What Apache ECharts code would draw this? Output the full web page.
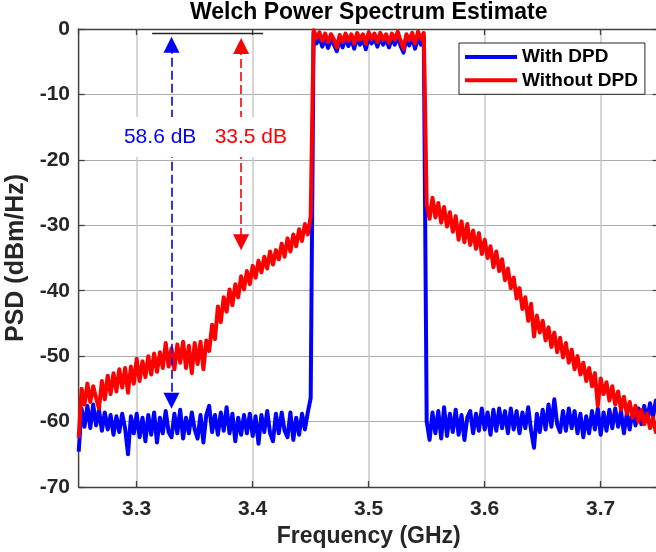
<!DOCTYPE html>
<html><head><meta charset="utf-8">
<script src="https://cdn.jsdelivr.net/npm/echarts@6/dist/echarts.min.js"></script>
<style>html,body{margin:0;padding:0;background:#fff}#c{width:656px;height:552px}</style>
</head><body><div id="c"></div><script>
// Frequency sample grid (GHz)
const fStart = 3.25, fStep = 0.0025;
// PSD (dBm/Hz), one value per frequency sample
const withDPD = [
-64.6,-58.0,-60.8,-57.6,-61.0,-57.4,-60.6,-58.2,-61.4,-58.6,
-61.2,-59.0,-62.0,-59.2,-61.6,-58.8,-61.0,-65.0,-59.2,-61.8,
-58.8,-62.4,-59.4,-63.0,-59.0,-62.0,-58.6,-63.2,-59.4,-61.8,
-58.4,-61.6,-62.4,-58.8,-61.8,-58.2,-62.6,-59.4,-61.8,-58.6,
-61.2,-62.6,-59.0,-63.2,-59.0,-57.6,-61.6,-59.0,-62.0,-58.6,
-61.4,-57.8,-61.8,-58.8,-63.0,-59.4,-62.0,-59.0,-61.8,-58.8,
-62.2,-59.2,-63.4,-59.0,-61.6,-58.4,-61.8,-63.0,-58.8,-61.8,
-58.6,-61.4,-62.4,-58.6,-62.8,-59.4,-62.0,-58.8,-61.2,-58.6,
-56.4,
-0.6,-2.2,-1.2,-2.7,-1.4,-2.9,-1.5,-2.4,-3.4,-1.6,
-2.8,-1.4,-2.6,-1.5,-3.0,-1.3,-2.4,-1.5,-3.1,-1.2,
-2.2,-1.4,-2.7,-1.3,-2.4,-1.5,-2.8,-1.4,-2.4,-1.1,
-2.6,-3.6,-1.5,-2.5,-1.3,-3.0,-1.2,-2.4,-1.3,
-60.0,-62.8,-58.6,-61.8,-58.4,-62.6,-57.8,-62.2,-58.8,-61.6,
-58.2,-62.0,-59.0,-62.8,-59.4,-58.4,-61.8,-58.8,-61.4,-58.0,
-61.2,-58.6,-62.0,-58.2,-61.4,-58.0,-61.0,-58.4,-61.8,-58.0,
-61.2,-58.4,-61.8,-58.6,-61.0,-57.8,-61.4,-64.0,-58.8,-61.6,
-58.2,-61.2,-57.4,-60.8,-56.6,-60.4,-61.6,-58.4,-61.4,-58.0,
-61.0,-58.4,-61.8,-58.8,-62.4,-59.2,-61.8,-58.4,-61.2,-58.0,
-62.0,-58.6,-61.4,-58.2,-61.0,-58.0,-60.8,-58.4,-61.8,-58.8,
-61.2,-58.2,-60.6,-58.0,-60.4,-57.6,-59.8,-57.2,-59.4,-56.8,-58.2
];
const withoutDPD = [
-62.5,-55.0,-57.4,-54.2,-57.0,-54.6,-56.4,-58.0,-53.8,-56.6,
-53.0,-55.8,-52.6,-55.4,-52.0,-54.8,-51.8,-55.6,-51.6,-54.2,
-50.4,-53.8,-50.8,-53.2,-50.0,-52.8,-49.6,-52.4,-49.4,-51.8,
-48.0,-51.6,-48.8,-52.0,-48.2,-51.0,-47.8,-51.8,-48.4,-52.6,
-48.0,-51.2,-47.8,-52.0,-47.6,-49.2,-45.2,-47.4,-42.4,-44.8,
-41.0,-43.2,-39.8,-42.2,-39.0,-41.0,-37.8,-39.8,-37.0,-39.0,
-36.2,-38.0,-35.4,-37.2,-34.8,-36.6,-34.0,-36.0,-33.8,-35.2,
-32.8,-34.8,-32.0,-34.0,-31.4,-33.2,-30.6,-32.4,-29.8,-31.4,
-28.6,
-0.2,-1.4,-0.5,-1.8,-0.7,-2.0,-0.8,-1.6,-2.8,-0.9,
-2.0,-0.7,-1.8,-0.8,-2.2,-0.6,-1.6,-0.8,-2.3,-0.5,
-1.5,-0.7,-2.0,-0.6,-1.7,-0.8,-2.1,-0.7,-1.6,-0.4,
-1.8,-3.0,-0.8,-1.7,-0.6,-2.2,-0.4,-1.5,-0.6,
-26.8,-29.0,-25.8,-28.8,-26.6,-29.6,-27.2,-30.2,-28.0,-31.0,
-28.6,-32.2,-29.4,-32.6,-29.8,-33.0,-30.8,-33.6,-31.2,-34.4,
-32.2,-35.0,-33.2,-36.4,-34.0,-37.0,-35.2,-38.4,-36.6,-39.6,
-38.0,-41.2,-39.6,-42.8,-41.0,-44.6,-42.0,-47.0,-43.8,-46.4,
-44.6,-47.6,-45.6,-48.6,-46.4,-49.4,-47.2,-50.2,-48.0,-51.0,
-49.0,-52.0,-50.0,-52.8,-51.0,-53.8,-51.8,-54.6,-52.6,-57.6,
-53.4,-55.8,-54.0,-56.8,-54.6,-57.4,-55.4,-58.2,-56.2,-58.8,
-57.0,-59.4,-57.6,-60.0,-58.2,-60.4,-58.8,-61.0,-59.4,-61.6,-60.8
];
const seriesNames = ['With DPD', 'Without DPD'];
const seriesColors = ['#0000ff', '#ff0000'];
// Annotations (data units)
const arrowFreq = [3.33, 3.39];
const arrowTop = [-2.4, -2.6];
const arrowBottom = [-56.8, -32.6];
const arrowLabels = ['58.6 dB', '33.5 dB'];
const labelFreq = [3.3202, 3.3984];
const labelLevel = -16.5;
const refLineFreq = [3.3133, 3.409];
const refLineLevel = -0.65;
const xMin = 3.25, xMax = 3.75, yMin = -70, yMax = 0, yStep = 10;

const FONT = '"Liberation Sans", Arial, Helvetica, sans-serif';
const toPairs = arr => arr.map((v, i) => [+(fStart + i * fStep).toFixed(4), v]);

const chart = echarts.init(document.getElementById('c'), null, {renderer: 'canvas'});
const axisLineStyle = {color: '#404040', width: 1.3};
const option = {
  animation: false,
  backgroundColor: '#fff',
  title: {
    text: 'Welch Power Spectrum Estimate',
    left: 368.7, top: 1, textAlign: 'center', padding: 0,
    textStyle: {fontFamily: FONT, fontSize: 23, fontWeight: 'bold', color: '#000'}
  },
  grid: {left: 78.7, top: 29, width: 580, height: 458, containLabel: false, outerBoundsMode: 'none'},
  legend: {
    data: seriesNames, orient: 'vertical', left: 459, top: 43,
    padding: [4, 7, 4, 6], itemGap: 3.3, itemWidth: 52, itemHeight: 4, icon: 'rect',
    backgroundColor: '#fff', borderColor: '#262626', borderWidth: 1,
    textStyle: {fontFamily: FONT, fontSize: 19, fontWeight: 'bold', color: '#000', lineHeight: 20}
  },
  xAxis: [{
    type: 'value', min: xMin, max: xMax, splitNumber: 5,
    name: 'Frequency (GHz)', nameLocation: 'middle', nameGap: 37,
    nameTextStyle: {fontFamily: FONT, fontSize: 23, fontWeight: 'bold', color: '#262626'},
    axisLine: {show: true, onZero: false, lineStyle: axisLineStyle},
    axisTick: {show: true, inside: true, length: 6, lineStyle: axisLineStyle},
    axisLabel: {show: true, margin: 12, showMinLabel: false, showMaxLabel: false,
      fontFamily: FONT, fontSize: 21, fontWeight: 'bold', color: '#262626',
      formatter: v => v.toFixed(1)},
    splitLine: {show: true, lineStyle: {color: '#c8c8c8', width: 1.5}}
  }, {
    type: 'value', position: 'top', min: xMin, max: xMax, splitNumber: 5,
    axisLine: {show: true, onZero: false, lineStyle: axisLineStyle},
    axisTick: {show: true, inside: true, length: 6, lineStyle: axisLineStyle},
    axisLabel: {show: false}, splitLine: {show: false}
  }],
  yAxis: [{
    type: 'value', min: yMin, max: yMax, interval: yStep,
    name: 'PSD (dBm/Hz)', nameLocation: 'middle', nameGap: 48,
    nameTextStyle: {fontFamily: FONT, fontSize: 25, fontWeight: 'bold', color: '#262626'},
    axisLine: {show: true, onZero: false, lineStyle: axisLineStyle},
    axisTick: {show: true, inside: true, length: 6, lineStyle: axisLineStyle},
    axisLabel: {margin: 8.7, fontFamily: FONT, fontSize: 21, fontWeight: 'bold', color: '#262626'},
    splitLine: {show: true, lineStyle: {color: '#acacac', width: 1}}
  }, {
    type: 'value', position: 'right', min: yMin, max: yMax, interval: yStep,
    axisLine: {show: true, onZero: false, lineStyle: axisLineStyle},
    axisTick: {show: true, inside: true, length: 6, lineStyle: axisLineStyle},
    axisLabel: {show: false}, splitLine: {show: false}
  }],
  series: [
    {name: seriesNames[0], type: 'line', data: toPairs(withDPD), showSymbol: false, symbol: 'none',
     lineStyle: {color: seriesColors[0], width: 4, join: 'round'}, itemStyle: {color: seriesColors[0]}, z: 3},
    {name: seriesNames[1], type: 'line', data: toPairs(withoutDPD), showSymbol: false, symbol: 'none',
     lineStyle: {color: seriesColors[1], width: 4, join: 'round'}, itemStyle: {color: seriesColors[1]}, z: 4},
    {type: 'lines', coordinateSystem: 'cartesian2d', z: 5,
     symbol: ['triangle', 'triangle'], symbolSize: 16,
     data: arrowFreq.map((f, i) => ({
       coords: [[f, arrowTop[i]], [f, arrowBottom[i]]],
       lineStyle: {color: seriesColors[i], width: 1.6, type: [9, 4], opacity: 1}
     })),
     lineStyle: {opacity: 1}},
    {type: 'lines', coordinateSystem: 'cartesian2d', z: 5, symbol: 'none',
     data: [{coords: [[refLineFreq[0], refLineLevel], [refLineFreq[1], refLineLevel]]}],
     lineStyle: {color: '#262626', width: 1.3, opacity: 1}},
    {type: 'scatter', z: 6, symbolSize: 0,
     data: labelFreq.map((f, i) => ({
       value: [f, labelLevel],
       itemStyle: {color: seriesColors[i]},
       label: {show: true, position: 'inside', formatter: arrowLabels[i],
         fontFamily: FONT, fontSize: 21, color: seriesColors[i],
         backgroundColor: '#fff', padding: [9, 4], lineHeight: 22,
         textBorderWidth: 0, textShadowBlur: 0, opacity: 1}
     }))}
  ]
};
chart.setOption(option);
</script></body></html>
